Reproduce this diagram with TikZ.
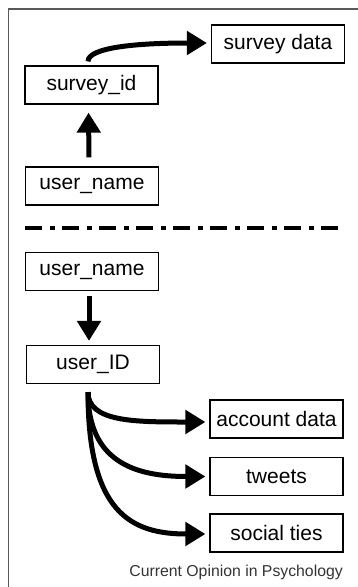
\documentclass[tikz,border=0pt]{standalone}
\usepackage{fontspec}
\setmainfont{Liberation Sans}
\usetikzlibrary{arrows.meta}
\tikzset{
  box/.style={draw=black, line width=1.2pt, minimum width=133pt, minimum height=38pt, inner sep=0pt, font=\fontsize{21}{25}\selectfont},
  arr/.style={line width=5pt, -{Triangle[length=20pt,width=23pt]}},
  framestyle/.style={draw=black!65, line width=1.4pt},
  sep/.style={line width=4.8pt, dash pattern=on 17pt off 7.5pt on 5pt off 7.5pt},
}
\begin{document}
\begin{tikzpicture}[x=1pt,y=-1pt]
\useasboundingbox (0,0) rectangle (357,587);
\draw[framestyle] (8.5,590) -- (8.5,9) -- (360,9);
% upper part
\node[box] (sd) at (278,44) {survey data};
\node[box] (sid) at (91.5,85) {survey\_id};
\node[box] (u1) at (92,186) {user\_name};
\draw[arr, shorten <=9pt, shorten >=8pt] ([xshift=-3pt]u1.north) -- ([xshift=-3pt]sid.south);
\draw[arr, shorten <=4pt] ([xshift=-3.5pt]sid.north) .. controls +(0,-18) and +(-70,0) .. ([xshift=-4pt,yshift=1pt]sd.west);
% separator
\coordinate (sepL) at (25,228);
\coordinate (sepR) at (338,228);
\draw[sep] (sepL) -- (sepR);
% lower part
\node[box] (u2) at (92,271.5) {user\_name};
\node[box] (uid) at (93,364.5) {user\_ID};
\draw[arr, shorten <=5pt, shorten >=4pt] ([xshift=-3pt]u2.south) -- ([xshift=-4pt]uid.north);
\node[box] (acc) at (276.5,419) {account data};
\node[box] (tw) at (276.5,476.5) {tweets};
\node[box] (st) at (276.5,533) {social ties};
\coordinate (fork) at ([xshift=-5pt,yshift=-8pt]uid.south);
\draw[arr] (fork) .. controls +(0,30) and +(-70,0) .. ([xshift=-4pt,yshift=-3pt]acc.west);
\draw[arr] (fork) .. controls +(0,70) and +(-70,0) .. ([xshift=-4pt]tw.west);
\draw[arr] (fork) .. controls +(0,120) and +(-75,0) .. ([xshift=-4pt,yshift=-1pt]st.west);
% caption
\node[anchor=east, text=black!80, font=\fontsize{15.8}{18}\selectfont, inner sep=0pt] (cap) at (343,572) {Current Opinion in Psychology};
\end{tikzpicture}
\end{document}
